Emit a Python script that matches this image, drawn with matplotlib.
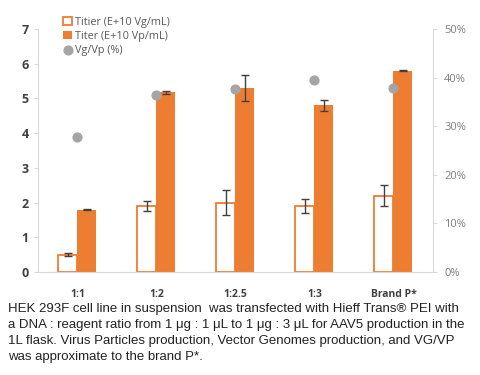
import matplotlib.pyplot as plt
import numpy as np

categories = ['1:1', '1:2', '1:2.5', '1:3', 'Brand P*']
vg_titer = [0.5, 1.9, 2.0, 1.9, 2.2]
vg_err = [0.05, 0.15, 0.37, 0.2, 0.3]
vp_titer = [1.8, 5.18, 5.3, 4.8, 5.8]
vp_err = [0.02, 0.04, 0.37, 0.15, 0.02]
vg_vp_pct = [27.8, 36.5, 37.7, 39.6, 37.9]

caption = ("HEK 293F cell line in suspension  was transfected with Hieff Trans\u00ae PEI with\n"
           "a DNA : reagent ratio from 1 \u03bcg : 1 \u03bcL to 1 \u03bcg : 3 \u03bcL for AAV5 production in the\n"
           "1L flask. Virus Particles production, Vector Genomes production, and VG/VP\n"
           "was approximate to the brand P*.")

orange = '#ED7D31'
grey_dot = '#A5A5A5'
spine_c = '#D9D9D9'

plt.rcParams['font.family'] = ['Open Sans', 'DejaVu Sans']

fig = plt.figure(figsize=(4.8, 3.75), dpi=100)
ax1 = fig.add_axes([0.079, 0.2747, 0.823, 0.648])

x = np.arange(len(categories))
w = 0.24
ax1.bar(x - w / 2, vg_titer, w, facecolor='white', edgecolor=orange, linewidth=1.3,
        label='Titier (E+10 Vg/mL)')
ax1.bar(x + w / 2, vp_titer, w, color=orange, label='Titer (E+10 Vp/mL)')
ax1.errorbar(x - w / 2, vg_titer, yerr=vg_err, fmt='none', ecolor='#404040',
             elinewidth=1, capsize=3, capthick=1)
ax1.errorbar(x + w / 2, vp_titer, yerr=vp_err, fmt='none', ecolor='#404040',
             elinewidth=1, capsize=3, capthick=1)

ax1.set_xlim(-0.5, 4.5)
ax1.set_ylim(0, 7)
ax1.set_xticks(x)
ax1.set_xticklabels(categories, fontsize=7.5, fontweight='bold', color='#404040')
ax1.set_yticks(range(8))
ax1.tick_params(axis='y', labelsize=9, labelcolor='#404040', color=spine_c, length=3)
for lbl in ax1.get_yticklabels():
    lbl.set_fontweight('bold')
ax1.tick_params(axis='x', length=0, pad=12)
for s in ['top', 'right']:
    ax1.spines[s].set_visible(False)
for s in ['left', 'bottom']:
    ax1.spines[s].set_color(spine_c)

ax2 = ax1.twinx()
ax2.scatter(x, vg_vp_pct, s=40, color=grey_dot, label='Vg/Vp (%)', zorder=3)
ax2.set_ylim(0, 50)
ax2.set_yticks(range(0, 51, 10))
ax2.set_yticklabels([f'{v}%' for v in range(0, 51, 10)])
ax2.tick_params(axis='y', labelsize=8, labelcolor='#7F7F7F', color=spine_c, length=3, pad=5)
for s in ['top', 'left', 'bottom']:
    ax2.spines[s].set_visible(False)
ax2.spines['right'].set_color(spine_c)

h1, l1 = ax1.get_legend_handles_labels()
h2, l2 = ax2.get_legend_handles_labels()
ax1.legend(h1 + h2, l1 + l2, loc='upper left', bbox_to_anchor=(0.04, 1.09),
           frameon=False, fontsize=7.8, handlelength=0.8, handleheight=0.8,
           handletextpad=0.3, labelspacing=0.3, labelcolor='#595959')

fig.text(0.017, 0.193, caption, fontsize=9.5, family=['Liberation Sans', 'DejaVu Sans'],
         va='top', ha='left', linespacing=1.45, color='#222222')

fig.savefig('out.png', dpi=100)
